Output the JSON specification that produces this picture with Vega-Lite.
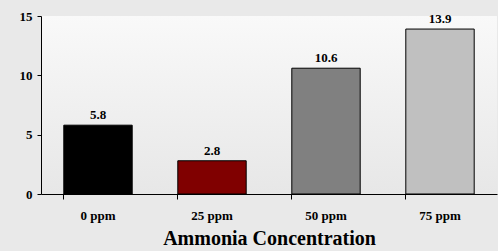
{
  "$schema": "https://vega.github.io/schema/vega-lite/v6.json",
  "width": 456,
  "height": 178,
  "autosize": {"type": "none"},
  "padding": {"left": 41, "top": 16, "right": 1, "bottom": 57},
  "background": "#e9e9e9",
  "config": {
    "view": {"stroke": null, "fill": {"gradient": "linear", "x1": 0, "y1": 0, "x2": 0, "y2": 1, "stops": [{"offset": 0, "color": "#f9f9f9"}, {"offset": 1, "color": "#e7e7e7"}]}},
    "font": "Liberation Serif"
  },
  "data": {
    "values": [
      {"conc": "0 ppm", "value": 5.8},
      {"conc": "25 ppm", "value": 2.8},
      {"conc": "50 ppm", "value": 10.6},
      {"conc": "75 ppm", "value": 13.9}
    ]
  },
  "encoding": {
    "x": {
      "field": "conc", "type": "nominal", "sort": null,
      "scale": {"paddingInner": 0.4, "paddingOuter": 0.2},
      "axis": {
        "title": "Ammonia Concentration", "titleFont": "Liberation Serif", "titleFontSize": 20, "titleFontWeight": "bold", "titleColor": "#000", "titlePadding": 6,
        "labelAngle": 0, "labelFont": "Liberation Serif", "labelFontSize": 13, "labelFontWeight": "bold", "labelColor": "#000", "labelPadding": 10,
        "bandPosition": 0, "tickSize": 5, "tickColor": "#000", "domainColor": "#000", "grid": false
      }
    },
    "y": {
      "field": "value", "type": "quantitative",
      "scale": {"domain": [0, 15]},
      "axis": {
        "title": null, "values": [0, 5, 10, 15], "grid": false,
        "labelFont": "Liberation Serif", "labelFontSize": 13, "labelFontWeight": "bold", "labelColor": "#000", "labelPadding": 5,
        "tickSize": 4, "tickColor": "#000", "domainColor": "#000"
      }
    }
  },
  "layer": [
    {
      "mark": {"type": "bar", "stroke": "#000", "strokeWidth": 1},
      "encoding": {
        "color": {
          "field": "conc", "type": "nominal", "sort": null, "legend": null,
          "scale": {"domain": ["0 ppm", "25 ppm", "50 ppm", "75 ppm"], "range": ["#000000", "#800000", "#808080", "#c0c0c0"]}
        }
      }
    },
    {
      "mark": {"type": "text", "baseline": "alphabetic", "dy": -6, "font": "Liberation Serif", "fontSize": 13, "fontWeight": "bold", "color": "#000"},
      "encoding": {"text": {"field": "value", "type": "quantitative", "format": ".1f"}}
    }
  ]
}
